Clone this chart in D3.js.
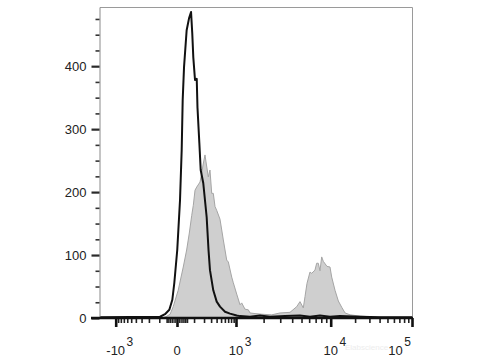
<!DOCTYPE html>
<html>
<head>
<meta charset="utf-8">
<script src="https://cdn.jsdelivr.net/npm/d3@7"></script>
<style>
  body { margin: 0; background: #fff; }
  svg { display: block; font-family: "Liberation Sans", Arial, sans-serif; }
</style>
</head>
<body>
<svg id="chart" width="480" height="360"></svg>
<script>
// Fluorescence values (biexponential display) and event counts
const unstainedX = [-1933, -94, -60, -35, -20, -11, 1, 13, 21, 26, 33, 48, 63, 77, 86, 94, 108, 123, 130, 148, 162, 191, 234, 260, 282, 337, 402, 474, 604, 762, 1018, 1108, 1427, 1829, 2338, 3364, 4822, 6120, 7760, 9834, 13040, 23050, 40700, 100000]
const unstainedCount = [1, 2, 6, 13, 29, 56, 108, 187, 267, 346, 398, 457, 476, 486, 452, 414, 378, 380, 334, 278, 235, 214, 160, 108, 76, 44, 26, 18, 10, 7, 4, 3, 2, 4, 2, 3, 4, 2, 4, 2, 3, 2, 1, 1]

const stainedX = [-1933, -80, -54, -31, -16, 5, 29, 48, 65, 82, 94, 108, 123, 155, 173, 188, 212, 225, 257, 282, 310, 337, 369, 402, 474, 557, 654, 705, 824, 886, 1018, 1108, 1157, 1258, 1367, 1427, 1616, 1908, 2437, 2982, 3796, 4457, 4822, 5219, 5434, 5698, 6120, 6370, 6890, 7175, 7450, 7760, 8080, 8390, 9160, 9834, 10290, 11310, 12430, 13690, 15040, 17350, 23050, 30630, 40700, 100000]
const stainedCount = [0, 0, 2, 6, 18, 44, 81, 108, 135, 163, 179, 203, 208, 216, 230, 243, 259, 248, 224, 235, 198, 198, 177, 171, 157, 124, 92, 89, 65, 56, 38, 21, 24, 14, 13, 8, 7, 6, 5, 8, 9, 18, 26, 16, 34, 55, 73, 71, 76, 87, 87, 75, 97, 90, 82, 81, 65, 44, 27, 17, 8, 5, 3, 2, 0, 0]

// axis ticks
const xMajor = [-1000, 0, 1000, 10000, 100000]
const xLabels = [['-10', '3'], ['0', ''], ['10', '3'], ['10', '4'], ['10', '5']]
const xMinor = [-900, -800, -700, -600, -500, -400, -300, -200, -100, -50, -40, -30, -20, -10, 10, 20, 30, 40, 50,
  100, 200, 300, 400, 500, 600, 700, 800, 900,
  2000, 3000, 4000, 5000, 6000, 7000, 8000, 9000,
  20000, 30000, 40000, 50000, 60000, 70000, 80000, 90000]
const yMajor = [0, 100, 200, 300, 400]
const yMinor = [25, 50, 75, 125, 150, 175, 225, 250, 275, 325, 350, 375, 425, 450, 475]

const svg = d3.select('#chart')
const plotL = 100, plotR = 412, plotT = 7, plotB = 318

const x = d3.scaleSymlog()
  .constant(100)
  .domain([-1933, -1000, 0, 1000, 10000, 100000])
  .range([plotL, 115.7, 177, 236, 330.7, plotR])

const y = d3.scaleLinear()
  .domain([0, 494])
  .range([plotB, plotT])

// frame (top + right)
svg.append('path')
  .attr('d', `M${plotL},${plotT + 0.5}H${plotR + 0.5}V${plotB}`)
  .attr('fill', 'none')
  .attr('stroke', '#9a9a9a')
  .attr('stroke-width', 1)

// stained histogram (filled grey)
const stained = stainedX.map((v, i) => [v, stainedCount[i]])
svg.append('path')
  .datum(stained)
  .attr('d', d3.area().x(d => x(d[0])).y0(y(0)).y1(d => y(d[1])))
  .attr('fill', '#cfcfcf')
  .attr('stroke', '#a5a5a5')
  .attr('stroke-width', 1)

// unstained control (black line)
const unstained = unstainedX.map((v, i) => [v, unstainedCount[i]])
svg.append('path')
  .datum(unstained)
  .attr('d', d3.line().x(d => x(d[0])).y(d => y(d[1])))
  .attr('fill', 'none')
  .attr('stroke', '#111')
  .attr('stroke-width', 2)
  .attr('stroke-linejoin', 'round')

// y axis
const yAxis = svg.append('g')
  .attr('transform', `translate(${plotL - 0.5},0)`)
  .call(d3.axisLeft(y).tickValues(yMajor).tickSize(8).tickSizeOuter(0).tickPadding(5))
yAxis.select('.domain').attr('stroke', '#8a8a8a').attr('stroke-width', 1)
yAxis.selectAll('.tick line').attr('stroke', '#2a2a2a').attr('stroke-width', 2.2)
yAxis.selectAll('.tick text').attr('font-size', 13).attr('fill', '#222')
  .attr('font-family', '"Liberation Sans", Arial, sans-serif')

const yAxisMinor = svg.append('g')
  .attr('transform', `translate(${plotL - 0.5},0)`)
  .call(d3.axisLeft(y).tickValues(yMinor).tickSize(4).tickSizeOuter(0).tickFormat(''))
yAxisMinor.select('.domain').remove()
yAxisMinor.selectAll('.tick line').attr('stroke', '#333').attr('stroke-width', 1.6)

// x axis
const xAxisMinor = svg.append('g')
  .attr('transform', `translate(0,${plotB})`)
  .call(d3.axisBottom(x).tickValues(xMinor).tickSize(5).tickSizeOuter(0).tickFormat(''))
xAxisMinor.select('.domain').remove()
xAxisMinor.selectAll('.tick line').attr('stroke', '#222').attr('stroke-width', 1.6)

const xAxis = svg.append('g')
  .attr('transform', `translate(0,${plotB})`)
  .call(d3.axisBottom(x).tickValues(xMajor).tickSize(9).tickSizeOuter(0).tickFormat(''))
xAxis.select('.domain').remove()
xAxis.selectAll('.tick line').attr('stroke', '#111').attr('stroke-width', 2.6)

// thick baseline running under the y axis ticks
svg.append('line')
  .attr('x1', plotL - 9).attr('x2', plotR + 1)
  .attr('y1', plotB).attr('y2', plotB)
  .attr('stroke', '#111')
  .attr('stroke-width', 2.5)

// x tick labels with superscript exponents
xMajor.forEach((v, i) => {
  const [base, exp] = xLabels[i]
  const g = svg.append('g')
  const t = g.append('text')
    .attr('x', 0).attr('y', 355)
    .attr('text-anchor', 'middle')
    .attr('font-size', 13)
    .attr('fill', '#222')
    .text(base)
  const bw = t.node().getComputedTextLength()
  let sw = 0
  if (exp) {
    const s = g.append('text')
      .attr('x', bw / 2 + 1.5).attr('y', 346)
      .attr('font-size', 12)
      .attr('fill', '#222')
      .text(exp)
    sw = s.node().getComputedTextLength() + 1.5
  }
  let cx = x(v)
  if (cx + bw / 2 + sw > plotR - 1) cx = plotR - 1 - bw / 2 - sw
  g.attr('transform', `translate(${cx},0)`)
})

// faint watermark
svg.append('text')
  .attr('x', 345).attr('y', 350)
  .attr('font-size', 8)
  .attr('fill', '#ededed')
  .text('Elabscience')
</script>
</body>
</html>
